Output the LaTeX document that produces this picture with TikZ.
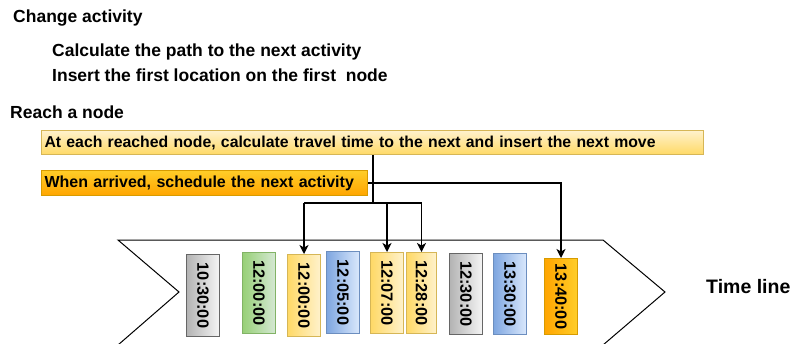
\documentclass[tikz,border=0pt]{standalone}
\usepackage{fontspec}
\setmainfont{Liberation Sans}
\usetikzlibrary{arrows.meta}
\definecolor{ylA}{HTML}{FFD966}\definecolor{ylB}{HTML}{FFF2CC}\definecolor{ylD}{HTML}{D6B656}
\definecolor{orA}{HTML}{FFA500}\definecolor{orB}{HTML}{FFCD28}\definecolor{orD}{HTML}{D79B00}
\definecolor{grA}{HTML}{B3B3B3}\definecolor{grB}{HTML}{F5F5F5}\definecolor{grD}{HTML}{666666}
\definecolor{gnA}{HTML}{97D077}\definecolor{gnB}{HTML}{D5E8D4}\definecolor{gnD}{HTML}{82B366}
\definecolor{blA}{HTML}{7EA6E0}\definecolor{blB}{HTML}{DAE8FC}\definecolor{blD}{HTML}{6C8EBF}
\tikzset{
  lbl/.style={anchor=west,inner sep=0pt,font=\fontsize{17.5}{19}\selectfont\bfseries},
  hbox/.style={anchor=north west,inner xsep=3pt,inner ysep=0pt,line width=1pt,font=\fontsize{16}{18}\selectfont\bfseries,align=left},
  vbox/.style={anchor=north west,inner sep=0pt,line width=1pt,minimum width=33pt,minimum height=82pt,font=\fontsize{16.3}{18}\selectfont\bfseries},
  conn/.style={line width=1.3pt,black},
  arr/.style={conn,-{Stealth[length=9pt,width=9pt,inset=2.5pt]}},
  gray/.style={vbox,draw=grD,left color=grA,right color=grB},
  green/.style={vbox,draw=gnD,left color=gnA,right color=gnB},
  yel/.style={vbox,draw=ylD,left color=ylA,right color=ylB},
  blu/.style={vbox,draw=blD,left color=blA,right color=blB},
  ora/.style={vbox,draw=orD,left color=orA,right color=orB},
}
\newcommand{\vt}[1]{\rotatebox{-90}{#1}}
\begin{document}
\begin{tikzpicture}[x=1pt,y=-1pt]
\useasboundingbox (0,0) rectangle (792,343);
% texts
\node[lbl] (h1) at (13,18) {Change activity};
\node[lbl] (h2) at (52,52) {Calculate the path to the next activity};
\node[lbl] (h3) at (52,75) {Insert the first location on the first\ \ node};
\node[lbl] (h4) at (10,112) {Reach a node};
% boxes
\node[hbox,font=\fontsize{15.8}{18}\selectfont\bfseries,draw=ylD,top color=ylB,bottom color=ylA,minimum width=662pt,minimum height=24pt,text width=656pt] (b1) at (41,130) {At each reached node, calculate travel time to the next and insert the next move};
\node[hbox,draw=orD,top color=orB,bottom color=orA,minimum width=326pt,minimum height=25pt,text width=320pt] (b2) at (41,170) {When arrived, schedule the next activity};
% timeline
\draw[line width=1pt] (118,240) -- (603,240) -- (665,292) -- (603,345) -- (118,345) -- (179,292) -- cycle;
\node[lbl,font=\fontsize{19.5}{21}\selectfont\bfseries] (tl) at (706,287) {Time line};
% vertical boxes
\node[gray] (t1) at (186,254) {\vt{10:30:00}};
\node[green,minimum height=81pt] (t2) at (242,252) {\vt{12:00:00}};
\node[yel] (t3) at (287,254) {\vt{12:00:00}};
\node[blu] (t4) at (326,251) {\vt{12:05:00}};
\node[yel,minimum height=81pt] (t5) at (370,252) {\vt{12:07:00}};
\node[yel,minimum width=30pt,minimum height=81pt] (t6) at (406,252) {\vt{12:28:00}};
\node[gray,minimum height=81pt] (t7) at (449,253) {\vt{12:30:00}};
\node[blu,minimum height=81pt] (t8) at (493,253) {\vt{13:30:00}};
\node[ora,minimum height=76pt] (t9) at (544,258) {\vt{13:40:00}};
% connectors
\coordinate (jn) at (373,203);
\draw[conn] (b1.south -| jn) -- (jn);
\draw[conn] (t3.north |- jn) -- (t6.north |- jn);
\draw[arr] (t3.north |- jn) -- (t3.north);
\draw[arr] (t5.north |- jn) -- (t5.north);
\draw[arr] (t6.north |- jn) -- (t6.north);
\draw[arr] (b2.east) -- (b2.east -| t9.north) -- (t9.north);
\end{tikzpicture}
\end{document}
